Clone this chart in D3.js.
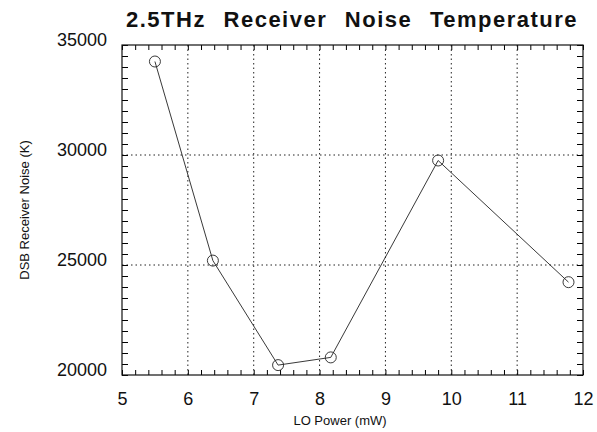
<!DOCTYPE html>
<html>
<head>
<meta charset="utf-8">
<script src="https://cdn.jsdelivr.net/npm/d3@7"></script>
<style>
  body { margin: 0; background: #fff; }
  text { font-family: "Liberation Sans", Arial, sans-serif; fill: #111; }
</style>
</head>
<body>
<svg id="chart" width="597" height="432"></svg>
<script>
var w = 597, h = 432;
var margin = { top: 45, right: 14, bottom: 57, left: 122 };

// data
var loPower = [5.5, 6.38, 7.37, 8.17, 9.8, 11.78];
var noiseK = [34250, 25200, 20450, 20800, 29750, 24220];
var xTicks = [5, 6, 7, 8, 9, 10, 11, 12];
var yTicks = [20000, 25000, 30000, 35000];
var points = loPower.map((d, i) => ({ x: d, y: noiseK[i] }));

var svg = d3.select("#chart");
var iw = w - margin.left - margin.right;
var ih = h - margin.top - margin.bottom;

var xScale = d3.scaleLinear().domain([5, 12]).range([margin.left, margin.left + iw]);
var yScale = d3.scaleLinear().domain([20000, 35000]).range([margin.top + ih, margin.top]);

// dotted grid at major ticks
svg.append("g").selectAll("line")
  .data(xTicks.slice(1, -1))
  .join("line")
  .attr("x1", d => xScale(d)).attr("x2", d => xScale(d))
  .attr("y1", margin.top).attr("y2", margin.top + ih)
  .attr("stroke", "#222").attr("stroke-width", 1)
  .attr("stroke-dasharray", "1.5,3");
svg.append("g").selectAll("line")
  .data(yTicks.slice(1, -1))
  .join("line")
  .attr("x1", margin.left).attr("x2", margin.left + iw)
  .attr("y1", d => yScale(d)).attr("y2", d => yScale(d))
  .attr("stroke", "#222").attr("stroke-width", 1)
  .attr("stroke-dasharray", "1.5,3");

// axes with inward minor ticks on all four sides
var xMinor = d3.range(5, 12.001, 0.2);
var yMinor = d3.range(20000, 35001, 500);

svg.append("g")
  .attr("transform", "translate(0," + (margin.top + ih) + ")")
  .call(d3.axisTop(xScale).tickValues(xMinor).tickSize(5).tickFormat(""))
  .call(g => g.select(".domain").remove());
svg.append("g")
  .attr("transform", "translate(0," + margin.top + ")")
  .call(d3.axisBottom(xScale).tickValues(xMinor).tickSize(5).tickFormat(""))
  .call(g => g.select(".domain").remove());
svg.append("g")
  .attr("transform", "translate(" + margin.left + ",0)")
  .call(d3.axisRight(yScale).tickValues(yMinor).tickSize(6).tickFormat(""))
  .call(g => g.select(".domain").remove());
svg.append("g")
  .attr("transform", "translate(" + (margin.left + iw) + ",0)")
  .call(d3.axisLeft(yScale).tickValues(yMinor).tickSize(6).tickFormat(""))
  .call(g => g.select(".domain").remove());

// frame
svg.append("rect")
  .attr("x", margin.left).attr("y", margin.top)
  .attr("width", iw).attr("height", ih)
  .attr("fill", "none").attr("stroke", "#111").attr("stroke-width", 1.2);

// tick labels
var xAxis = svg.append("g")
  .attr("transform", "translate(0," + (margin.top + ih) + ")")
  .call(d3.axisBottom(xScale).tickValues(xTicks).tickSize(0).tickPadding(17).tickFormat(d3.format("d")));
xAxis.select(".domain").remove();
xAxis.selectAll("text").style("font-size", "18px");

var yAxis = svg.append("g")
  .attr("transform", "translate(" + margin.left + ",0)")
  .call(d3.axisLeft(yScale).tickValues(yTicks).tickSize(0).tickPadding(15).tickFormat(d3.format("d")));
yAxis.select(".domain").remove();
yAxis.selectAll("text").style("font-size", "18px").attr("dy", "0.05em");

// series
var line = d3.line().x(d => xScale(d.x)).y(d => yScale(d.y));
svg.append("path")
  .datum(points)
  .attr("d", line)
  .attr("fill", "none")
  .attr("stroke", "#222")
  .attr("stroke-width", 0.9);

svg.selectAll("circle.pt")
  .data(points)
  .join("circle")
  .attr("class", "pt")
  .attr("cx", d => xScale(d.x))
  .attr("cy", d => yScale(d.y))
  .attr("r", 5.5)
  .attr("fill", "none")
  .attr("stroke", "#222")
  .attr("stroke-width", 0.9);

// titles
svg.append("text")
  .attr("x", 126).attr("y", 27)
  .style("font-size", "22px")
  .style("font-weight", "bold")
  .style("letter-spacing", "1.5px")
  .style("word-spacing", "10px")
  .text("2.5THz Receiver Noise Temperature");

svg.append("text")
  .attr("x", 340).attr("y", 425)
  .attr("text-anchor", "middle")
  .style("font-size", "13px")
  .text("LO Power (mW)");

svg.append("text")
  .attr("transform", "translate(29," + (margin.top + ih / 2) + ") rotate(-90)")
  .attr("text-anchor", "middle")
  .style("font-size", "13px")
  .text("DSB Receiver Noise (K)");
</script>
</body>
</html>
